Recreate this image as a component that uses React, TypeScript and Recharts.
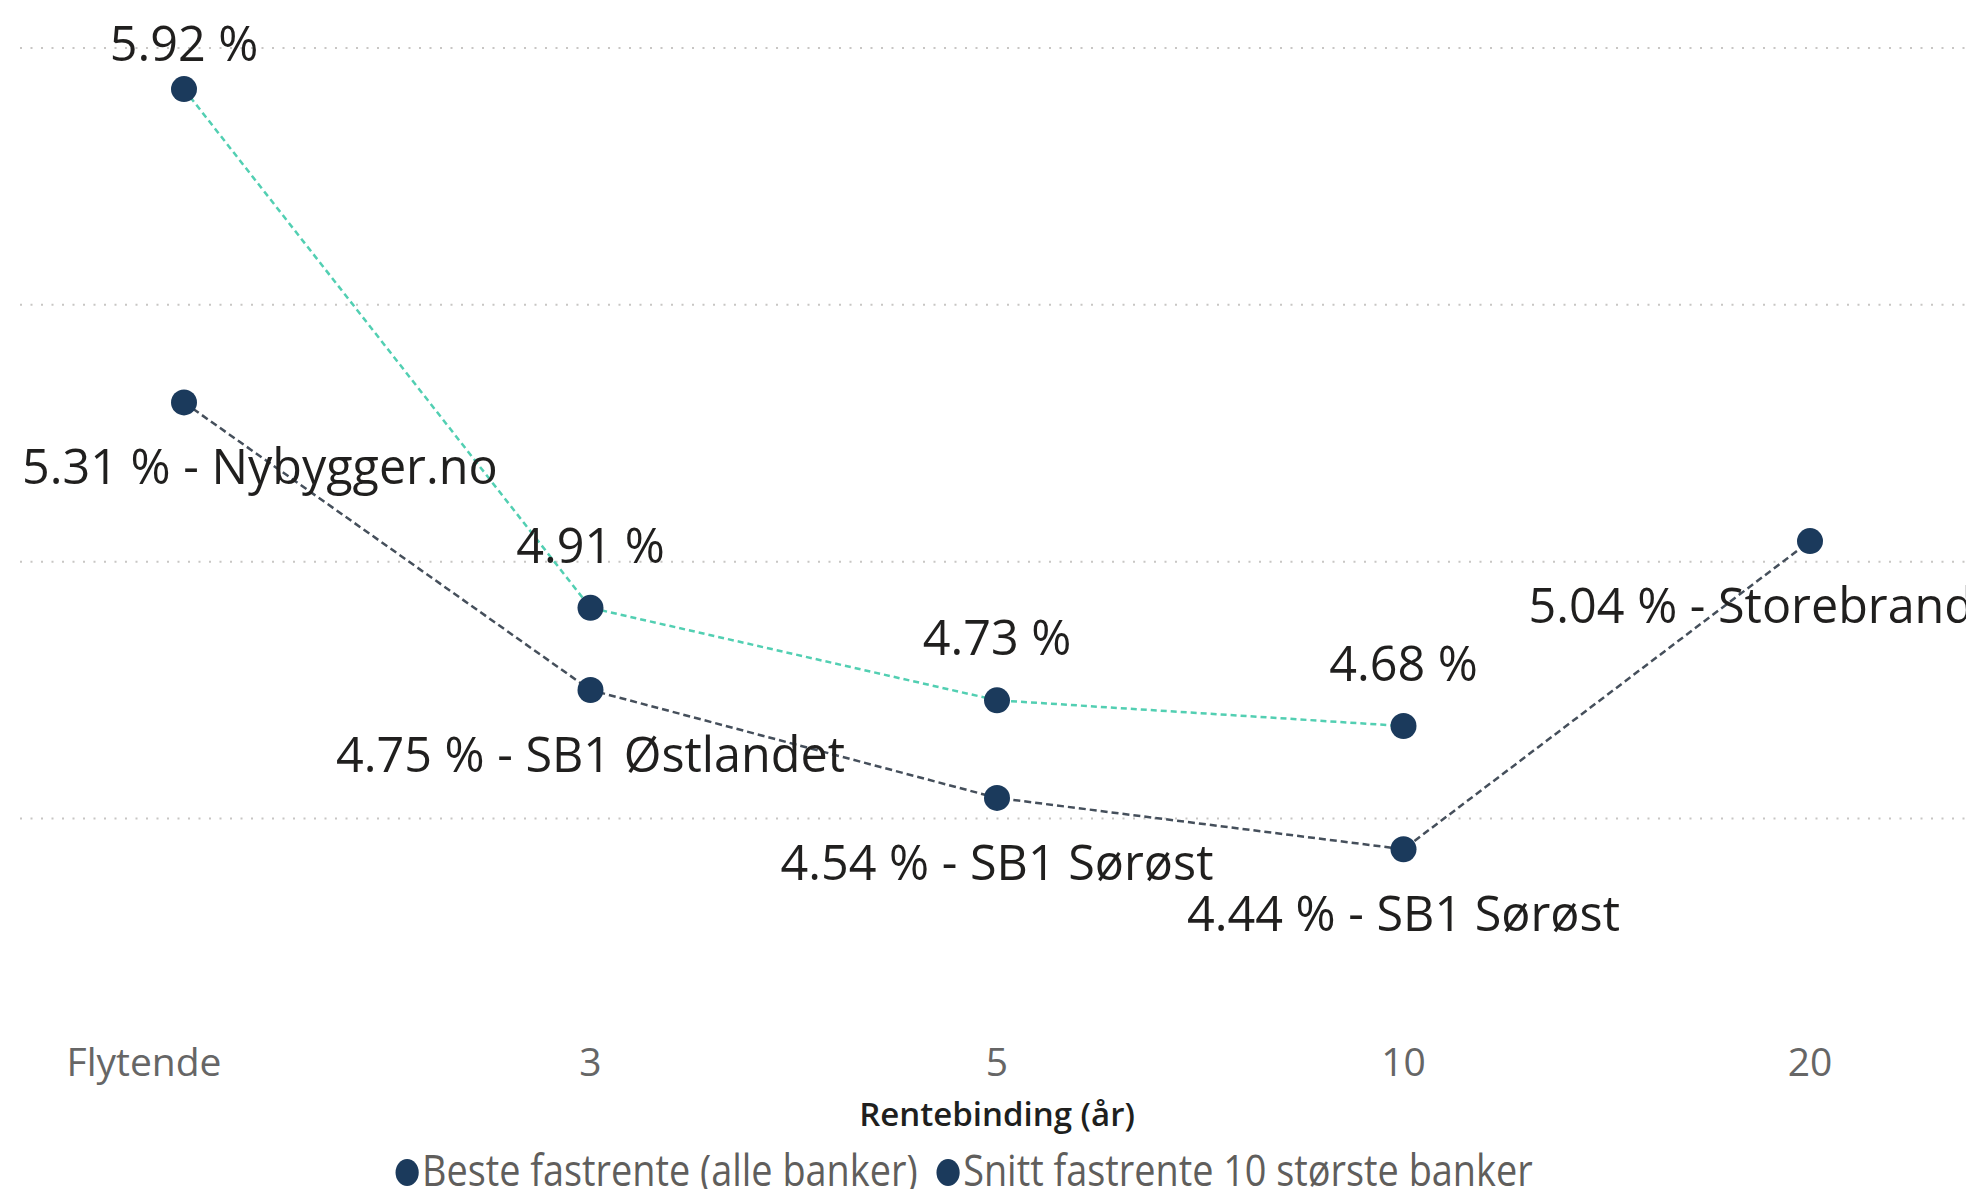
import React from "react";
import { LineChart, Line, XAxis, YAxis, CartesianGrid, LabelList, Legend, Label } from "recharts";

// Rentebinding categories and rates (%)
const categories = ["Flytende", "3", "5", "10", "20"];
const besteRates = [5.31, 4.75, 4.54, 4.44, 5.04];
const besteBanks = ["Nybygger.no", "SB1 Østlandet", "SB1 Sørøst", "SB1 Sørøst", "Storebrand"];
const snittRates: (number | null)[] = [5.92, 4.91, 4.73, 4.68, null];
const gridTicks = [4.5, 5, 5.5, 6];

const data = categories.map((cat, i) => ({
  cat,
  beste: besteRates[i],
  snitt: snittRates[i],
}));

const W = 1966;
const H = 1181;
const PLOT_LEFT = 12;
const PLOT_RIGHT = W;
const FONT = "'Open Sans', 'Noto Sans', sans-serif";
const NAVY = "#1B3A5C";
const TEAL = "#52CFB2";
const GREY_LINE = "#454F5B";
const TEXT_DARK = "#201F1E";
const TEXT_GREY = "#605E5C";
const LABEL_SIZE = 48.5;

let ctx: CanvasRenderingContext2D | null = null;
function textWidth(s: string, size: number) {
  if (!ctx) ctx = document.createElement("canvas").getContext("2d");
  if (!ctx) return s.length * size * 0.55;
  ctx.font = `${size}px ${FONT}`;
  return ctx.measureText(s).width;
}

// data labels: kept inside the plot horizontally, like Power BI does
function makeLabel(kind: "above" | "below") {
  return (props: any) => {
    const { x, y, value, index } = props;
    if (value == null || x == null || y == null) return null;
    const text =
      kind === "above"
        ? `${Number(value).toFixed(2)} %`
        : `${Number(value).toFixed(2)} % - ${besteBanks[index]}`;
    const w = textWidth(text, LABEL_SIZE);
    const left = Math.max(PLOT_LEFT + 2, Math.min(x - w / 2, PLOT_RIGHT - w));
    const baseline = kind === "above" ? Math.max(y - 45, 53) : y + 82;
    return (
      <text
        x={left}
        y={baseline}
        textAnchor="start"
        fill={TEXT_DARK}
        fontSize={LABEL_SIZE}
        fontFamily={FONT}
      >
        {text}
      </text>
    );
  };
}

const CatTick = (props: any) => {
  const { x, y, payload, index } = props;
  const dx = index === 0 ? -40 : 0;
  return (
    <text
      x={x + dx}
      y={y + 49}
      textAnchor="middle"
      fill="#666666"
      fontSize={39}
      fontFamily={FONT}
    >
      {payload.value}
    </text>
  );
};

const AxisTitle = (props: any) => {
  const vb = props.viewBox || {};
  return (
    <text
      x={vb.x + vb.width / 2}
      y={vb.y + 99}
      textAnchor="middle"
      fill={TEXT_DARK}
      fontSize={33}
      fontWeight={600}
      fontFamily={FONT}
    >
      Rentebinding (år)
    </text>
  );
};

const legendItems = ["Beste fastrente (alle banker)", "Snitt fastrente 10 største banker"];

const LegendContent = () => (
  <div
    style={{
      display: "flex",
      justifyContent: "center",
      alignItems: "center",
      paddingTop: 2,
      fontFamily: FONT,
      fontSize: 44,
      color: TEXT_GREY,
      whiteSpace: "nowrap",
      transform: "translateX(-33px) scaleX(0.86)",
      transformOrigin: "center top",
    }}
  >
    {legendItems.map((name, i) => (
      <span key={name} style={{ display: "flex", alignItems: "center", marginLeft: i ? 22 : 0 }}>
        <span
          style={{
            width: 27,
            height: 27,
            borderRadius: 14,
            background: NAVY,
            display: "inline-block",
            marginRight: 4,
            marginTop: 6,
          }}
        />
        {name}
      </span>
    ))}
  </div>
);

export default function App() {
  return (
    <div style={{ width: W, height: H, fontFamily: FONT, background: "#fff" }}>
      <LineChart width={W} height={H} data={data} margin={{ top: 40, right: 0, left: PLOT_LEFT, bottom: 0 }}>
        <CartesianGrid
          vertical={false}
          horizontalValues={gridTicks}
          stroke="#C8C6C4"
          strokeWidth={2}
          strokeDasharray="2 8.5"
        />
        <XAxis
          dataKey="cat"
          axisLine={false}
          tickLine={false}
          tickSize={0}
          tickMargin={0}
          interval={0}
          height={110}
          padding={{ left: 164, right: 164 }}
          tick={<CatTick />}
        >
          <Label content={<AxisTitle />} />
        </XAxis>
        <YAxis hide domain={[4.094, 6]} ticks={gridTicks} />
        <Legend verticalAlign="bottom" height={52} wrapperStyle={{ height: 52 }} content={<LegendContent />} />
        <Line
          dataKey="beste"
          stroke={GREY_LINE}
          strokeWidth={2.5}
          strokeDasharray="7 4"
          dot={{ r: 13, fill: NAVY, stroke: NAVY, strokeWidth: 0, strokeDasharray: "" }}
          activeDot={false}
          isAnimationActive={false}
        >
          <LabelList dataKey="beste" content={makeLabel("below")} />
        </Line>
        <Line
          dataKey="snitt"
          stroke={TEAL}
          strokeWidth={2.5}
          strokeDasharray="6 4"
          dot={{ r: 13, fill: NAVY, stroke: NAVY, strokeWidth: 0, strokeDasharray: "" }}
          activeDot={false}
          isAnimationActive={false}
        >
          <LabelList dataKey="snitt" content={makeLabel("above")} />
        </Line>
      </LineChart>
    </div>
  );
}
